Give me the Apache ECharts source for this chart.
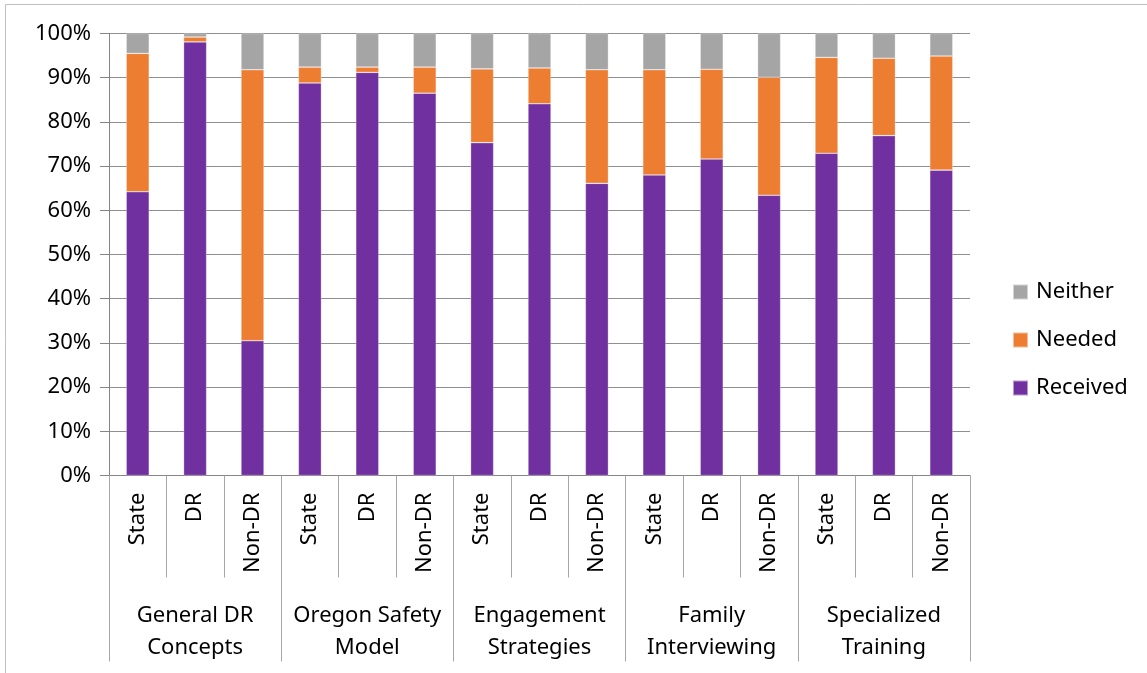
<!DOCTYPE html>
<html>
<head>
<meta charset="utf-8">
<script src="https://cdn.jsdelivr.net/npm/echarts@6/dist/echarts.min.js"></script>
<style>
  html, body { margin: 0; padding: 0; background: #fff; }
  #chart { width: 1147px; height: 673px; }
</style>
</head>
<body>
<div id="chart"></div>
<script>
  // sub categories (15 bars) and their groups
  var subLabels = ['State', 'DR', 'Non-DR', 'State', 'DR', 'Non-DR', 'State', 'DR', 'Non-DR',
    'State', 'DR', 'Non-DR', 'State', 'DR', 'Non-DR'];
  var groupLabels = ['General DR\nConcepts', 'Oregon Safety\nModel', 'Engagement\nStrategies',
    'Family\nInterviewing', 'Specialized\nTraining'];
  var yTicks = [0, 10, 20, 30, 40, 50, 60, 70, 80, 90, 100];

  // percent values
  var received = [64.2, 98.1, 30.5, 88.8, 91.2, 86.5, 75.3, 84.1, 66.1, 68.0, 71.6, 63.4, 72.9, 76.9, 69.1];
  var needed = [31.3, 1.1, 61.3, 3.6, 1.2, 5.9, 16.7, 8.1, 25.7, 23.8, 20.3, 26.7, 21.7, 17.5, 25.8];
  var neither = [4.5, 0.8, 8.2, 7.6, 7.6, 7.6, 8.0, 7.8, 8.2, 8.2, 8.1, 9.9, 5.4, 5.6, 5.1];

  var font = 'Noto Sans';
  var chart = echarts.init(document.getElementById('chart'));

  function barSeries(name, data, color) {
    return {
      name: name,
      type: 'bar',
      stack: 'total',
      barWidth: 23,
      xAxisIndex: 0,
      itemStyle: { color: color, borderColor: 'rgba(255,255,255,0.5)', borderWidth: 0.6 },
      data: data
    };
  }

  chart.setOption({
    backgroundColor: '#ffffff',
    animation: false,
    textStyle: { fontFamily: font },
    graphic: [{
      type: 'rect',
      shape: { x: 5.5, y: 4.5, width: 1200, height: 700 },
      style: { fill: 'none', stroke: '#bfbfbf', lineWidth: 1 }
    }],
    grid: { left: 109, right: 177, top: 33.5, bottom: 197.5 },
    legend: {
      orient: 'vertical',
      left: 1012,
      top: 281,
      padding: 0,
      itemWidth: 15,
      itemHeight: 15,
      itemGap: 26,
      icon: 'rect',
      data: ['Neither', 'Needed', 'Received'],
      textStyle: { fontSize: 22, color: '#000', fontFamily: font, padding: [0, 0, 0, 3] }
    },
    xAxis: [{
      type: 'category',
      data: subLabels,
      position: 'bottom',
      axisLine: { show: true, lineStyle: { color: '#868686', width: 1 } },
      axisTick: { show: true, interval: 0, length: 102, lineStyle: { color: '#a6a6a6' } },
      axisLabel: { interval: 0, rotate: 90, margin: 17, fontSize: 22, color: '#000', fontFamily: font },
      splitLine: { show: false }
    }, {
      type: 'category',
      data: groupLabels,
      position: 'bottom',
      axisLine: { show: false },
      axisTick: { show: true, interval: 0, length: 186, lineStyle: { color: '#a6a6a6' } },
      axisLabel: { interval: 0, margin: 124, fontSize: 22, lineHeight: 32, color: '#000', fontFamily: font },
      splitLine: { show: false }
    }],
    yAxis: {
      type: 'value',
      min: yTicks[0],
      max: yTicks[yTicks.length - 1],
      interval: 10,
      axisLine: { show: true, lineStyle: { color: '#868686' } },
      axisTick: { show: true, length: 9, lineStyle: { color: '#868686' } },
      axisLabel: { formatter: '{value}%', margin: 18, fontSize: 22, color: '#000', fontFamily: font },
      splitLine: { show: true, lineStyle: { color: '#8f8f8f', width: 1 } }
    },
    series: [
      barSeries('Received', received, '#7030A0'),
      barSeries('Needed', needed, '#ED7D31'),
      barSeries('Neither', neither, '#A5A5A5')
    ]
  });
</script>
</body>
</html>
